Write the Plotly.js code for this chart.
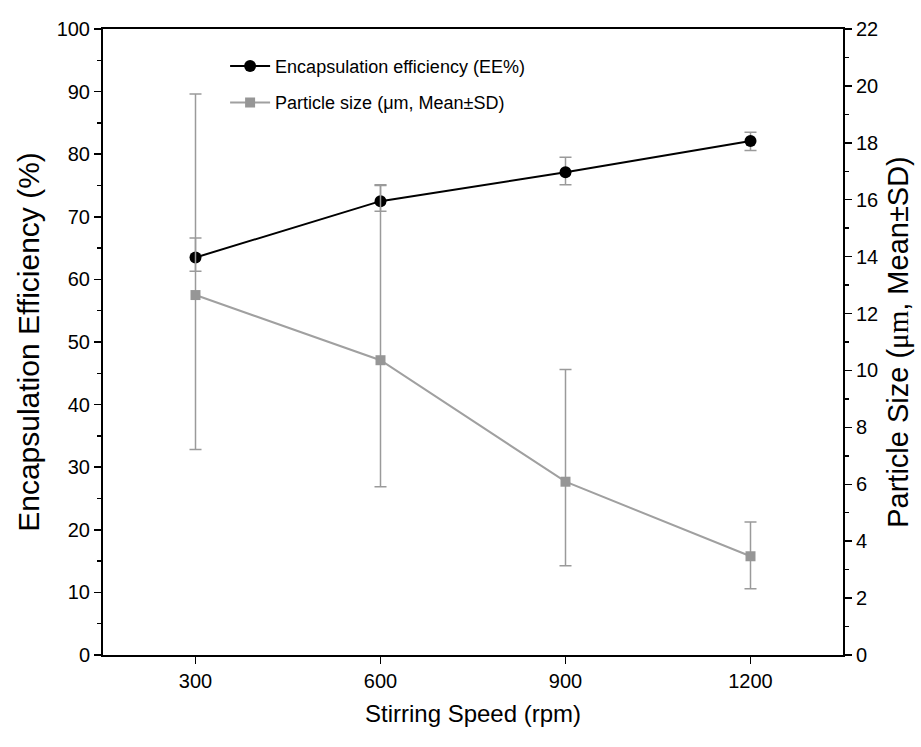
<!DOCTYPE html>
<html>
<head>
<meta charset="utf-8">
<script src="https://cdn.plot.ly/plotly-3.0.1.min.js"></script>
<style>html,body{margin:0;padding:0;background:#fff;}#chart{width:921px;height:747px;}</style>
</head>
<body>
<div id="chart"></div>
<script>
const speeds = [300, 600, 900, 1200];
const eeValues = [63.5, 72.5, 77.1, 82.1];
const eeErrPlus = [3.1, 2.6, 2.4, 1.4];
const eeErrMinus = [2.2, 1.6, 2.0, 1.5];
const sizeValues = [12.65, 10.36, 6.09, 3.47];
const sizeErrPlus = [7.07, 6.14, 3.94, 1.2];
const sizeErrMinus = [5.43, 4.45, 2.95, 1.14];
const xTicks = [300, 600, 900, 1200];

const FONT = '"Liberation Sans", Arial, sans-serif';

const traces = [
  {
    x: speeds, y: eeValues, yaxis: 'y', type: 'scatter', mode: 'lines+markers',
    name: 'Encapsulation efficiency (EE%)', legendgroup: 'a',
    line: {color: '#000000', width: 2},
    marker: {symbol: 'circle', size: 12, color: '#000000'},
    error_y: {type: 'data', array: eeErrPlus, arrayminus: eeErrMinus, symmetric: false,
              color: '#9a9a9a', thickness: 1.5, width: 6}
  },
  {
    x: speeds, y: sizeValues, yaxis: 'y2', type: 'scatter', mode: 'lines+markers',
    name: 'Particle size (μm, Mean±SD)', legendgroup: 'b',
    line: {color: '#a0a0a0', width: 2},
    marker: {symbol: 'square', size: 10, color: '#969696'},
    error_y: {type: 'data', array: sizeErrPlus, arrayminus: sizeErrMinus, symmetric: false,
              color: '#9a9a9a', thickness: 1.5, width: 6}
  }
];

const layout = {
  width: 921, height: 747,
  margin: {l: 103, r: 78, t: 29, b: 92},
  paper_bgcolor: '#ffffff', plot_bgcolor: '#ffffff',
  font: {family: FONT, color: '#000000', size: 20},
  showlegend: true,
  legend: {x: 0.165, y: 0.97, xanchor: 'left', yanchor: 'top',
           bgcolor: 'rgba(0,0,0,0)', font: {family: FONT, size: 18, color: '#000'},
           tracegroupgap: 10, itemwidth: 40},
  xaxis: {
    range: [150, 1350], tickvals: xTicks, ticktext: xTicks.map(String),
    showgrid: false, zeroline: false, showline: true, linecolor: '#000', linewidth: 2,
    mirror: true, ticks: 'outside', ticklen: 7, tickwidth: 1.5, tickcolor: '#000',
    tickfont: {family: FONT, size: 20},
    title: {text: 'Stirring Speed (rpm)', font: {family: FONT, size: 24}, standoff: 14}
  },
  yaxis: {
    range: [0, 100], dtick: 10, showgrid: false, zeroline: false,
    showline: true, linecolor: '#000', linewidth: 2,
    ticks: 'outside', ticklen: 7, tickwidth: 1.5, tickcolor: '#000',
    minor: {dtick: 5, ticks: 'outside', ticklen: 4, tickwidth: 1.5, tickcolor: '#000', showgrid: false},
    tickfont: {family: FONT, size: 20},
    title: {text: 'Encapsulation Efficiency (%)', font: {family: FONT, size: 30}, standoff: 8}
  },
  yaxis2: {
    range: [0, 22], dtick: 2, overlaying: 'y', side: 'right', anchor: 'x',
    showgrid: false, zeroline: false, showline: true, linecolor: '#000', linewidth: 2,
    ticks: 'outside', ticklen: 7, tickwidth: 1.5, tickcolor: '#000',
    minor: {dtick: 1, ticks: 'outside', ticklen: 4, tickwidth: 1.5, tickcolor: '#000', showgrid: false},
    tickfont: {family: FONT, size: 20},
    title: {text: 'Particle Size (<span style="font-family:Liberation Serif,serif">μm</span>, Mean±SD)', font: {family: FONT, size: 29}, standoff: 10}
  }
};

Plotly.newPlot('chart', traces, layout, {displayModeBar: false, staticPlot: true});
</script>
</body>
</html>
